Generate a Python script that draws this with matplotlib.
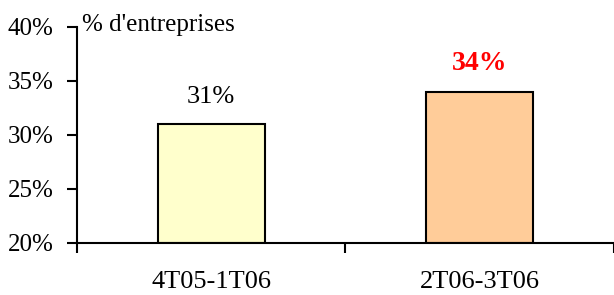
import numpy as np
import matplotlib.pyplot as plt

plt.rcParams['font.family'] = ['Liberation Serif', 'DejaVu Serif']

# data
categories = ['4T05-1T06', '2T06-3T06']
values = [31, 34]
bar_colors = ['#FFFFCC', '#FFCC99']
label_colors = ['black', 'red']
label_weights = ['normal', 'bold']
label_sizes = [19, 20]

fig = plt.figure(figsize=(6.14, 2.95), dpi=100)
ax = fig.add_axes([0.1254, 0.1763, 0.8746, 0.7322])

x = np.arange(len(categories))
ax.bar(x, np.array(values) - 20, bottom=20, width=0.40, color=bar_colors,
       edgecolor='black', linewidth=1.5)

for xi, v, c, w, s in zip(x, values, label_colors, label_weights, label_sizes):
    ax.text(xi, v + 1.5, f'{v}%', ha='center', va='bottom', fontsize=s,
            color=c, fontweight=w)

ax.set_xlim(-0.5, 1.5)
ax.set_ylim(20, 40)
ax.set_yticks([20, 25, 30, 35, 40])
ax.set_yticklabels([f'{t}%' for t in [20, 25, 30, 35, 40]], fontsize=18)

ax.set_xticks([-0.5, 0.5, 1.5])
ax.set_xticklabels([])
ax.set_xticks(x, minor=True)
ax.set_xticklabels(categories, minor=True, fontsize=19)
ax.tick_params(axis='x', which='minor', length=0, pad=20)
ax.tick_params(axis='x', which='major', length=7, width=1.5, direction='out')
ax.tick_params(axis='y', length=7, width=1.5, direction='out', pad=10)

ax.spines['top'].set_visible(False)
ax.spines['right'].set_visible(False)
ax.spines['left'].set_linewidth(1.5)
ax.spines['bottom'].set_linewidth(1.5)

fig.text(0.134, 0.895, "% d'entreprises", fontsize=18, ha='left', va='baseline')

fig.savefig('out.png', dpi=100)
